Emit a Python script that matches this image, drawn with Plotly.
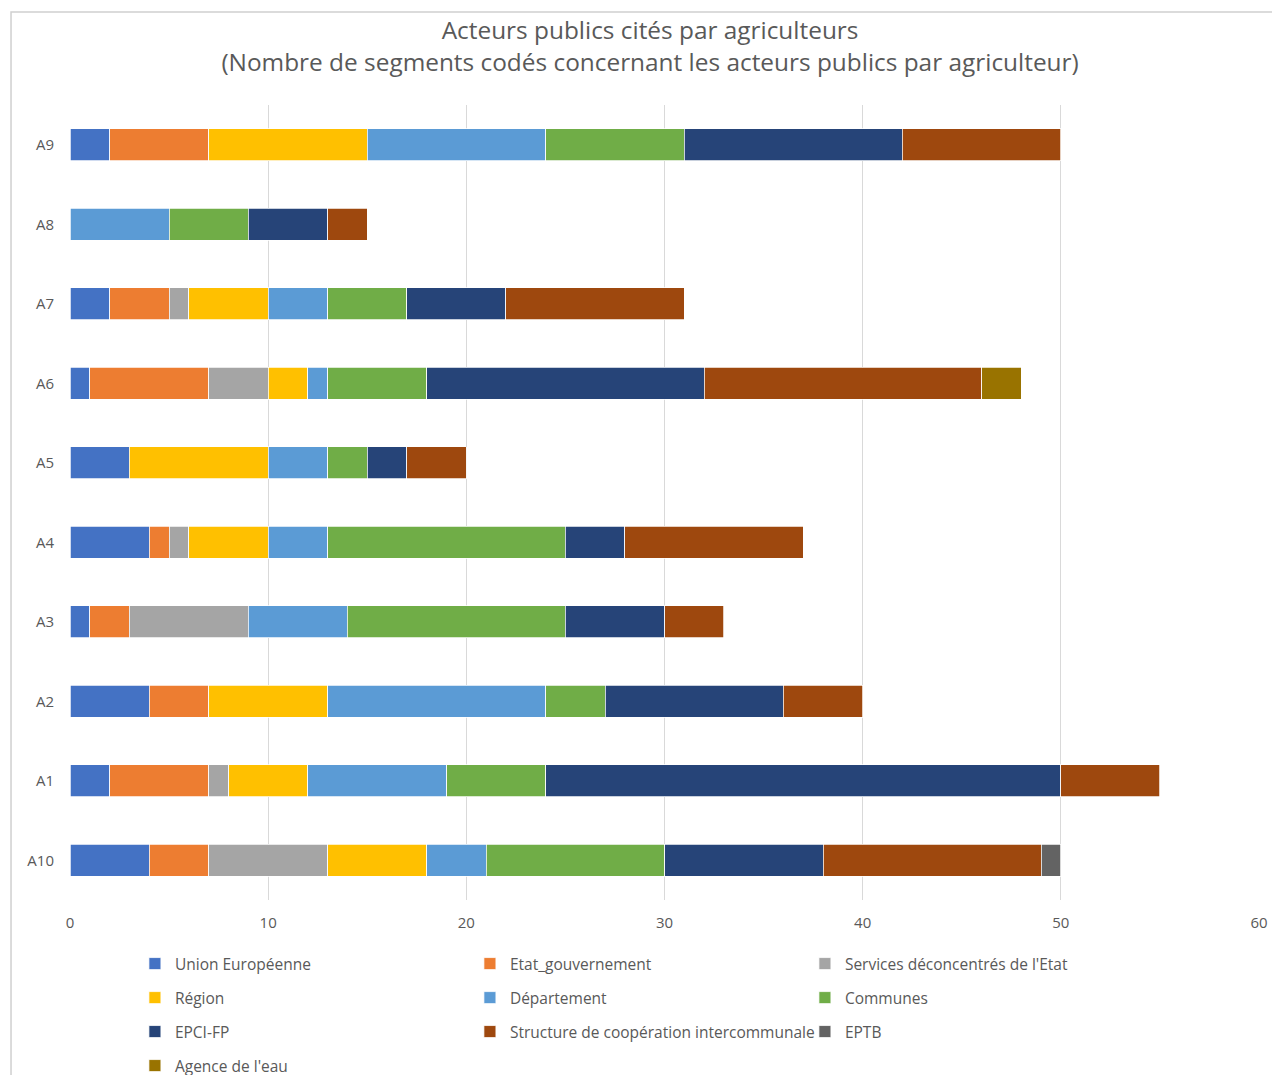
import plotly.graph_objects as go

categories = ["A10", "A1", "A2", "A3", "A4", "A5", "A6", "A7", "A8", "A9"]

series_names = [
    "Union Européenne", "Etat_gouvernement", "Services déconcentrés de l'Etat",
    "Région", "Département", "Communes",
    "EPCI-FP", "Structure de coopération intercommunale", "EPTB",
    "Agence de l'eau",
]

#                         A10 A1 A2 A3 A4 A5 A6  A7 A8 A9
union_europeenne      = [4,  2, 4, 1, 4, 3, 1,  2, 0, 2]
etat_gouvernement     = [3,  5, 3, 2, 1, 0, 6,  3, 0, 5]
services_deconcentres = [6,  1, 0, 6, 1, 0, 3,  1, 0, 0]
region                = [5,  4, 6, 0, 4, 7, 2,  4, 0, 8]
departement           = [3,  7, 11, 5, 3, 3, 1, 3, 5, 9]
communes              = [9,  5, 3, 11, 12, 2, 5, 4, 4, 7]
epci_fp               = [8,  26, 9, 5, 3, 2, 14, 5, 4, 11]
structure_coop        = [11, 5, 4, 3, 9, 3, 14, 9, 2, 8]
eptb                  = [1,  0, 0, 0, 0, 0, 0,  0, 0, 0]
agence_eau            = [0,  0, 0, 0, 0, 0, 2,  0, 0, 0]

series_values = [
    union_europeenne, etat_gouvernement, services_deconcentres,
    region, departement, communes,
    epci_fp, structure_coop, eptb, agence_eau,
]

colors = ["#4472C4", "#ED7D31", "#A5A5A5", "#FFC000", "#5B9BD5", "#70AD47",
          "#264478", "#9E480E", "#636363", "#997300"]

x_ticks = [0, 10, 20, 30, 40, 50, 60]

legend_rows = ["legend", "legend", "legend",
               "legend2", "legend2", "legend2",
               "legend3", "legend3", "legend3",
               "legend4"]

FONT = "Open Sans, Segoe UI, DejaVu Sans, sans-serif"
GREY = "#595959"

fig = go.Figure()
for name, vals, col, lg in zip(series_names, series_values, colors, legend_rows):
    fig.add_trace(go.Bar(
        y=categories,
        x=[v if v != 0 else None for v in vals],
        name=name,
        orientation="h",
        marker=dict(color=col, line=dict(color="white", width=0.75)),
        legend=lg,
    ))

# chart area border (Excel style)
fig.add_shape(type="rect", xref="paper", yref="paper",
              x0=-0.0496, x1=1.05, y0=-0.30, y1=1.117,
              line=dict(color="#D0D0D0", width=1.5), fillcolor="rgba(0,0,0,0)",
              layer="below")

legend_common = dict(
    orientation="h", xanchor="left", yanchor="middle",
    font=dict(family=FONT, size=15.5, color=GREY),
    entrywidth=290, entrywidthmode="pixels",
    bgcolor="rgba(0,0,0,0)", itemclick=False, itemdoubleclick=False,
    traceorder="normal",
)
legend_x = 0.0546
row_y = [-0.0805, -0.1233, -0.1660, -0.2088]

fig.update_layout(
    width=1280, height=1075,
    paper_bgcolor="white", plot_bgcolor="white",
    barmode="stack", bargap=0.6,
    margin=dict(l=62, r=29, t=97, b=183, autoexpand=False),
    font=dict(family=FONT, color=GREY),
    title=dict(
        text="Acteurs publics cités par agriculteurs<br>(Nombre de segments codés concernant les acteurs publics par agriculteur)",
        x=0.5016, xref="container", xanchor="center",
        y=0.971, yref="container", yanchor="top",
        font=dict(family=FONT, size=24.4, color=GREY),
    ),
    xaxis=dict(
        range=[0, 60], tickvals=x_ticks, ticktext=[str(t) for t in x_ticks],
        showgrid=True, gridcolor="#D9D9D9", gridwidth=1,
        zeroline=False, showline=False,
        tickfont=dict(family=FONT, size=15, color=GREY),
        ticklabelstandoff=12,
        fixedrange=True,
    ),
    yaxis=dict(
        categoryorder="array", categoryarray=categories,
        showgrid=False, zeroline=False, showline=False,
        tickfont=dict(family=FONT, size=15, color=GREY),
        ticklabelstandoff=15,
        fixedrange=True,
    ),
    legend=dict(legend_common, x=legend_x, y=row_y[0]),
    legend2=dict(legend_common, x=legend_x, y=row_y[1]),
    legend3=dict(legend_common, x=legend_x, y=row_y[2]),
    legend4=dict(legend_common, x=legend_x, y=row_y[3]),
)

fig.write_html("out.html")
